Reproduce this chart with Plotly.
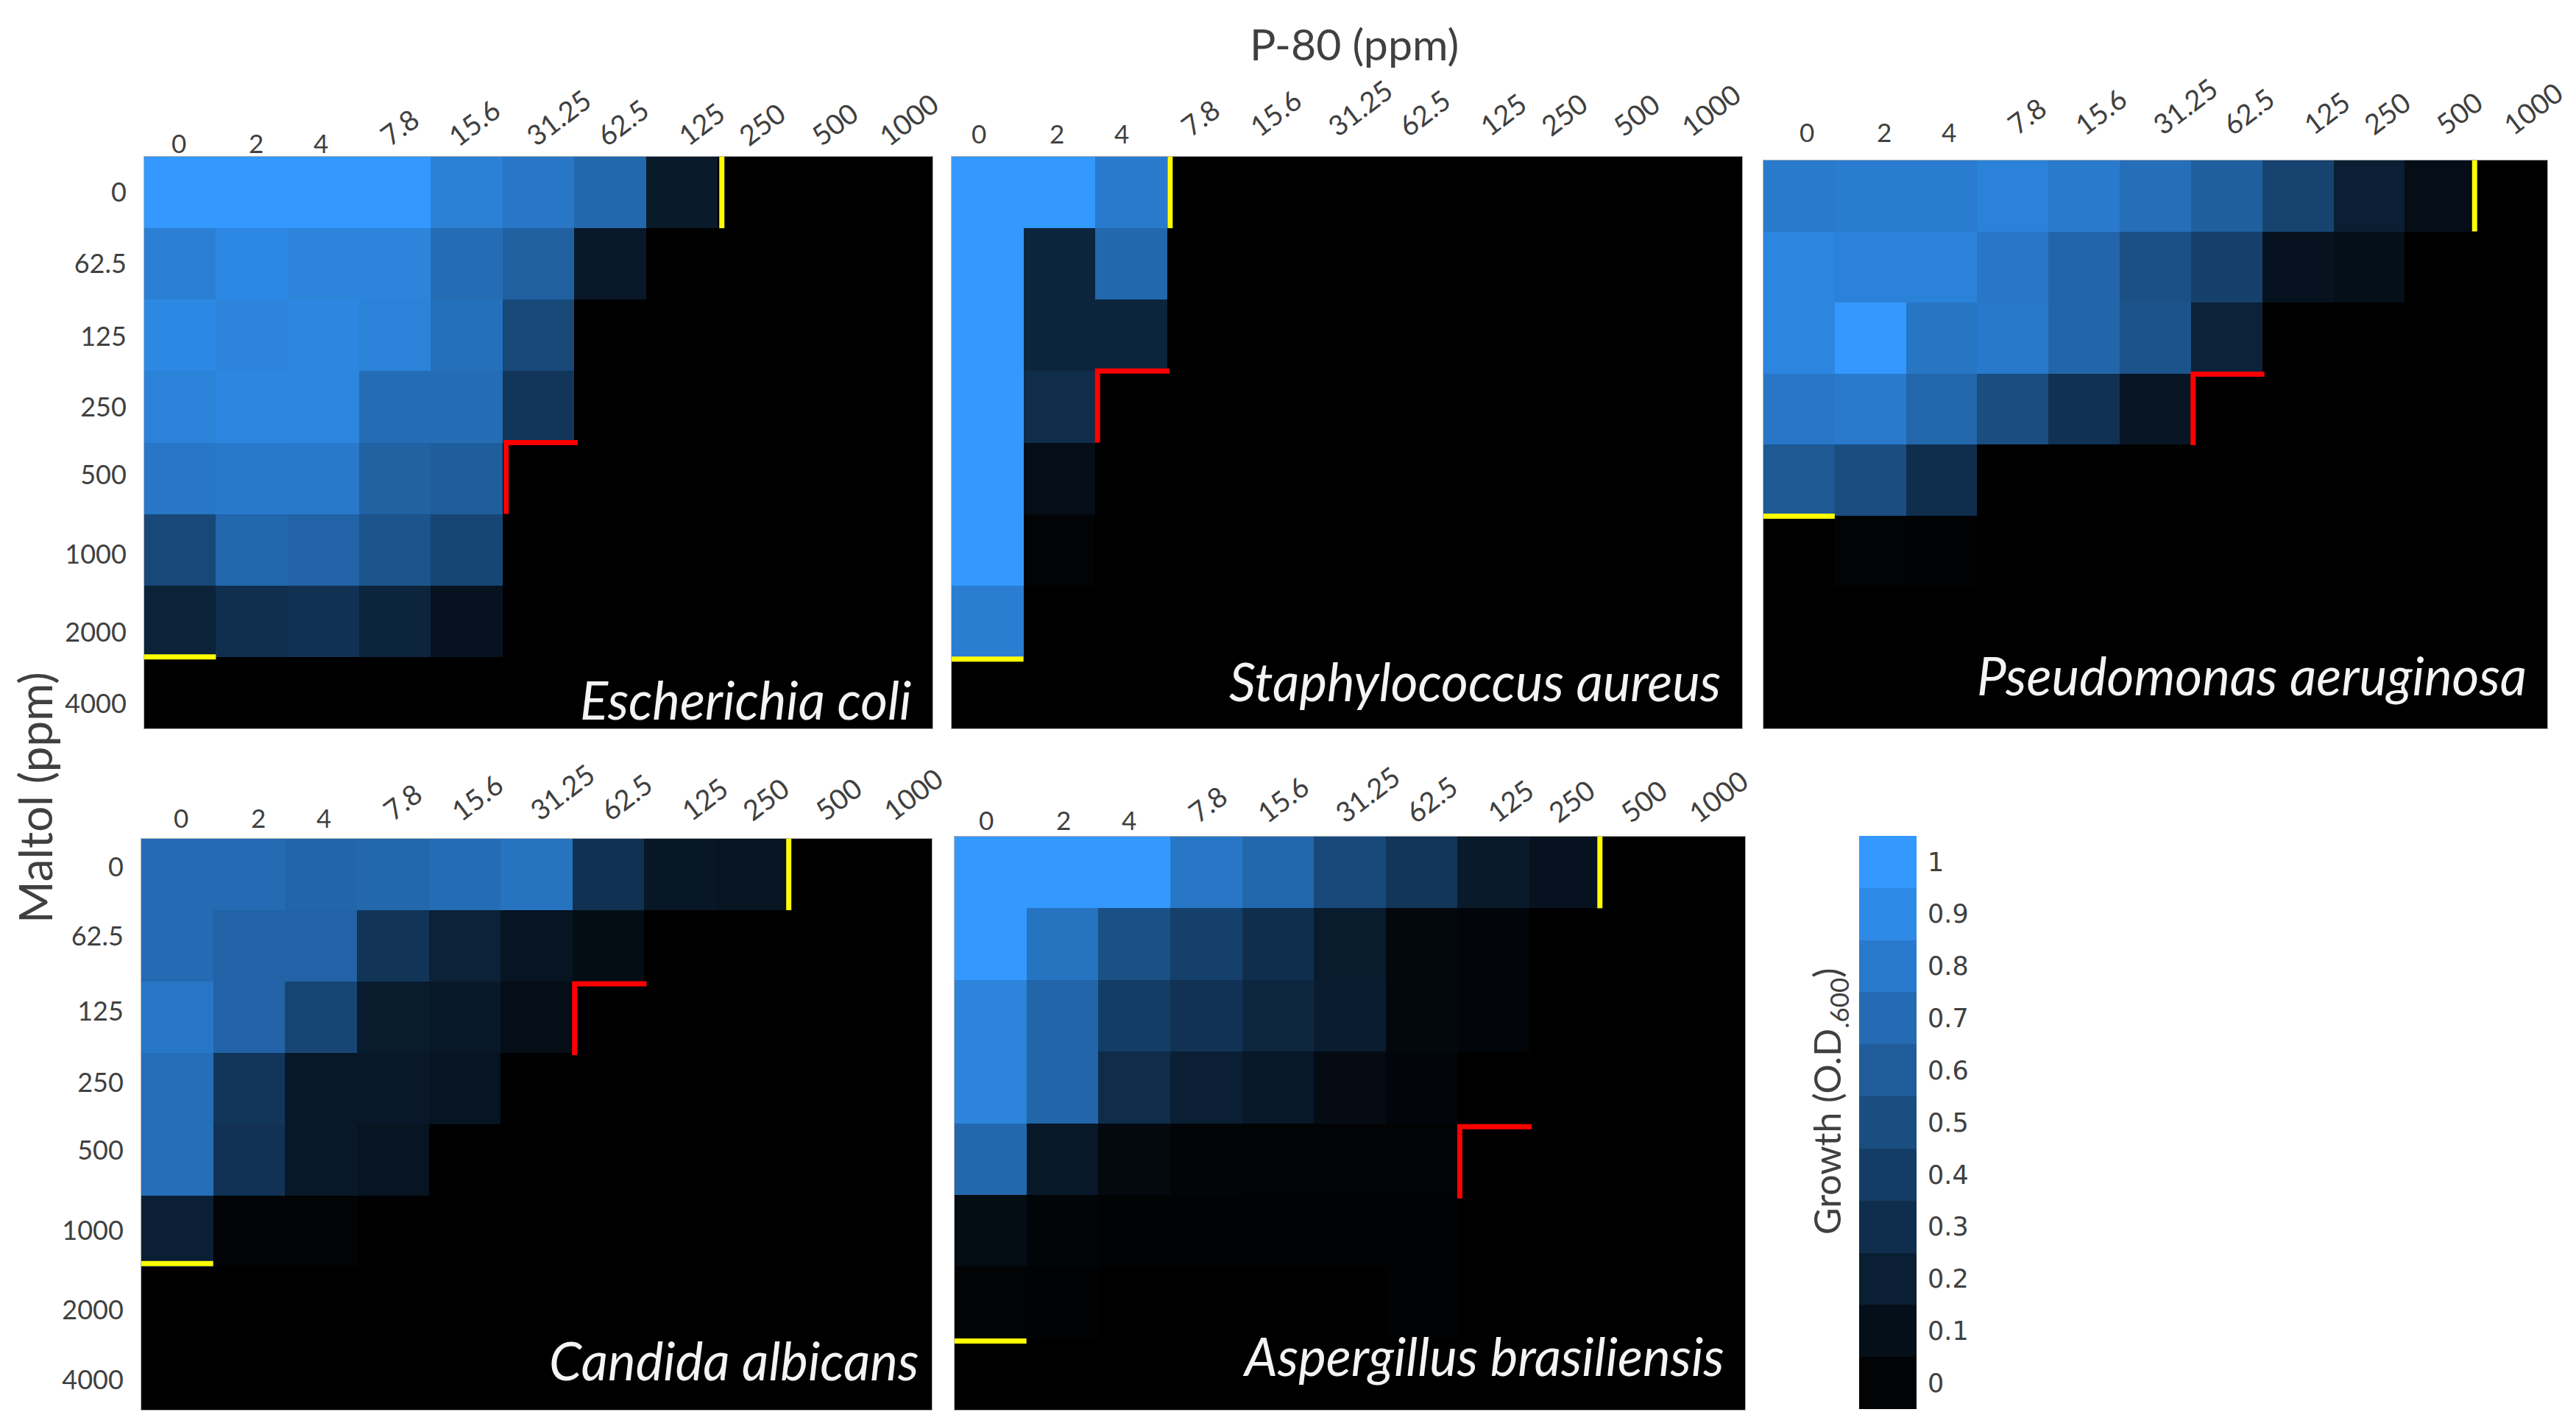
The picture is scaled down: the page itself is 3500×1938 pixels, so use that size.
import plotly.graph_objects as go

p80_labels = ["0", "2", "4", "7.8", "15.6", "31.25", "62.5", "125", "250", "500", "1000"]
maltol_labels = ["0", "62.5", "125", "250", "500", "1000", "2000", "4000"]
growth_labels = ["1", "0.9", "0.8", "0.7", "0.6", "0.5", "0.4", "0.3", "0.2", "0.1", "0"]
growth_levels = [1.0, 0.9, 0.8, 0.7, 0.6, 0.5, 0.4, 0.3, 0.2, 0.1, 0.02]

species = ["Escherichia coli", "Staphylococcus aureus", "Pseudomonas aeruginosa",
           "Candida albicans", "Aspergillus brasiliensis"]

e_coli = [
    [1.00, 1.00, 1.00, 1.00, 0.84, 0.78, 0.68, 0.17, 0, 0, 0],
    [0.83, 0.89, 0.86, 0.86, 0.71, 0.63, 0.16, 0, 0, 0, 0],
    [0.89, 0.86, 0.88, 0.85, 0.73, 0.47, 0, 0, 0, 0, 0],
    [0.85, 0.88, 0.87, 0.71, 0.71, 0.35, 0, 0, 0, 0, 0],
    [0.78, 0.79, 0.79, 0.64, 0.61, 0, 0, 0, 0, 0, 0],
    [0.47, 0.67, 0.65, 0.55, 0.46, 0, 0, 0, 0, 0, 0],
    [0.22, 0.31, 0.32, 0.24, 0.12, 0, 0, 0, 0, 0, 0],
    [0, 0, 0, 0, 0, 0, 0, 0, 0, 0, 0],
]
s_aureus = [
    [1.00, 1.00, 0.80, 0, 0, 0, 0, 0, 0, 0, 0],
    [1.00, 0.24, 0.68, 0, 0, 0, 0, 0, 0, 0, 0],
    [1.00, 0.24, 0.24, 0, 0, 0, 0, 0, 0, 0, 0],
    [1.00, 0.29, 0, 0, 0, 0, 0, 0, 0, 0, 0],
    [1.00, 0.09, 0, 0, 0, 0, 0, 0, 0, 0, 0],
    [1.00, 0.02, 0, 0, 0, 0, 0, 0, 0, 0, 0],
    [0.82, 0, 0, 0, 0, 0, 0, 0, 0, 0, 0],
    [0, 0, 0, 0, 0, 0, 0, 0, 0, 0, 0],
]
p_aeruginosa = [
    [0.80, 0.81, 0.81, 0.85, 0.80, 0.72, 0.62, 0.44, 0.20, 0.09, 0],
    [0.87, 0.85, 0.85, 0.78, 0.66, 0.52, 0.42, 0.12, 0.10, 0, 0],
    [0.87, 1.00, 0.77, 0.79, 0.66, 0.54, 0.22, 0, 0, 0, 0],
    [0.78, 0.80, 0.67, 0.50, 0.32, 0.14, 0, 0, 0, 0, 0],
    [0.58, 0.50, 0.30, 0, 0, 0, 0, 0, 0, 0, 0],
    [0, 0.02, 0.01, 0, 0, 0, 0, 0, 0, 0, 0],
    [0, 0, 0, 0, 0, 0, 0, 0, 0, 0, 0],
    [0, 0, 0, 0, 0, 0, 0, 0, 0, 0, 0],
]
c_albicans = [
    [0.70, 0.70, 0.66, 0.68, 0.71, 0.75, 0.32, 0.15, 0.13, 0, 0],
    [0.70, 0.65, 0.65, 0.34, 0.22, 0.13, 0.08, 0, 0, 0, 0],
    [0.78, 0.65, 0.45, 0.18, 0.16, 0.09, 0, 0, 0, 0, 0],
    [0.72, 0.35, 0.16, 0.16, 0.13, 0, 0, 0, 0, 0, 0],
    [0.72, 0.33, 0.16, 0.13, 0, 0, 0, 0, 0, 0, 0],
    [0.20, 0.02, 0.02, 0, 0, 0, 0, 0, 0, 0, 0],
    [0, 0, 0, 0, 0, 0, 0, 0, 0, 0, 0],
    [0, 0, 0, 0, 0, 0, 0, 0, 0, 0, 0],
]
a_brasiliensis = [
    [1.00, 1.00, 1.00, 0.78, 0.68, 0.48, 0.35, 0.17, 0.12, 0, 0],
    [1.00, 0.75, 0.52, 0.42, 0.30, 0.18, 0.05, 0.04, 0, 0, 0],
    [0.86, 0.66, 0.40, 0.33, 0.25, 0.19, 0.05, 0.04, 0, 0, 0],
    [0.86, 0.66, 0.29, 0.20, 0.16, 0.07, 0.04, 0, 0, 0, 0],
    [0.68, 0.16, 0.06, 0.03, 0.02, 0.02, 0.02, 0, 0, 0, 0],
    [0.08, 0.03, 0.01, 0.01, 0.01, 0.01, 0.01, 0, 0, 0, 0],
    [0.02, 0.01, 0, 0, 0, 0, 0.015, 0, 0, 0, 0],
    [0, 0, 0, 0, 0, 0, 0, 0, 0, 0, 0],
]
panel_values = [e_coli, s_aureus, p_aeruginosa, c_albicans, a_brasiliensis]

# MIC marks, counted as cell edges from the top left of each panel
# (hand drawn in the original, so they are a little off the grid)
yellow_col_edge = [8.06, 3.04, 9.98, 9.01, 8.98]
yellow_row_edge = [7, 7.03, 5.01, 5.95, 7.04]
red_col_edge = [5.05, 2.03, 6.03, 6.03, 7.03]
red_row_edge = [4, 3, 3.01, 2.03, 4.05]

W, H = 3500, 1938

# left, top, right, bottom of each panel in pixels
panel_boxes = [
    (196, 213, 1267, 990),
    (1293, 213, 2367, 990),
    (2396, 218, 3461, 990),
    (192, 1140, 1266, 1916),
    (1297, 1137, 2371, 1916),
]
colorbar_box = (2526, 1136, 2604, 1915)

# the printed tick labels do not sit exactly on the cell centres
xtick_drift = [-0.02, 0.06, -0.03, 0.06, 0.10, 0.28, 0.17, 0.27, 0.12, 0.13, 0.16]
xtick_panel_drift = [0, -0.10, 0.13, 0.07, -0.04]
xtick_lift = [5, 18, 25, 15, 9]
ytick_drift = {0: [0, 0, 0.02, 0, -0.05, 0.06, 0.16, 0.15],
               3: [-0.10, -0.13, -0.08, -0.08, -0.13, -0.01, 0.10, 0.08]}

species_right = [1240, 2340, 3435, 1250, 2345]
species_middle = [950, 925, 918, 1848, 1842]

blues = [[0, "#000000"], [1, "#3399ff"]]
TEXT = "#404040"
FONT = "Lato"


def px_x(x):
    return x / W


def px_y(y):
    return 1 - y / H


fig = go.Figure()
layout = {}
notes = []
cols = list(range(len(p80_labels)))
rows = list(range(len(maltol_labels)))

for i, values in enumerate(panel_values):
    n = "" if i == 0 else str(i + 1)
    left, top, right, bottom = panel_boxes[i]
    fig.add_trace(go.Heatmap(z=values, x=cols, y=rows, colorscale=blues,
                             zmin=0, zmax=1, showscale=False, xaxis="x" + n, yaxis="y" + n))

    cx = yellow_col_edge[i] - 0.5
    ry = yellow_row_edge[i] - 0.5
    fig.add_trace(go.Scatter(x=[cx, cx], y=[-0.5, 0.5], mode="lines", showlegend=False,
                             line=dict(color="#ffff00", width=7), xaxis="x" + n, yaxis="y" + n))
    fig.add_trace(go.Scatter(x=[-0.5, 0.5], y=[ry, ry], mode="lines", showlegend=False,
                             line=dict(color="#ffff00", width=7), xaxis="x" + n, yaxis="y" + n))
    rx = red_col_edge[i] - 0.5
    rr = red_row_edge[i] - 0.5
    fig.add_trace(go.Scatter(x=[rx + 1, rx, rx], y=[rr, rr, rr + 1], mode="lines", showlegend=False,
                             line=dict(color="#ff0000", width=7), xaxis="x" + n, yaxis="y" + n))

    layout["xaxis" + n] = dict(domain=[px_x(left), px_x(right)], anchor="y" + n, range=[-0.5, 10.5],
                               type="linear", showticklabels=False, ticks="", showgrid=False,
                               zeroline=False, showline=True, mirror=True, linecolor="#b4b4b4", linewidth=1)
    yaxis = dict(domain=[px_y(bottom), px_y(top)], anchor="x" + n, range=[7.5, -0.5], type="linear",
                 showticklabels=False, ticks="", showgrid=False, zeroline=False,
                 showline=True, mirror=True, linecolor="#b4b4b4", linewidth=1)
    if i in ytick_drift:
        yaxis.update(showticklabels=True, tickmode="array",
                     tickvals=[r + d for r, d in enumerate(ytick_drift[i])], ticktext=maltol_labels,
                     ticklabelstandoff=16, tickfont=dict(family=FONT, size=36, color=TEXT))
    layout["yaxis" + n] = yaxis

    for c, label in enumerate(p80_labels):
        flat = c < 3
        notes.append(dict(text=label, xref="x" + n, yref="paper", showarrow=False,
                          x=c + xtick_drift[c] + xtick_panel_drift[i], y=px_y(top),
                          xanchor="center", yanchor="bottom",
                          yshift=xtick_lift[i] - 8 if flat else xtick_lift[i],
                          textangle=0 if flat else -37, borderpad=0,
                          font=dict(family=FONT, size=35 if flat else 38, color=TEXT)))

    notes.append(dict(text="<i>" + species[i] + "</i>", xref="paper", yref="paper", showarrow=False,
                      x=px_x(species_right[i]), y=px_y(species_middle[i]), xanchor="right",
                      yanchor="middle", font=dict(family=FONT, size=71, color="#f4f4f4")))

# colour key, one cell per printed level
left, top, right, bottom = colorbar_box
fig.add_trace(go.Heatmap(z=[[v] for v in growth_levels], y=growth_labels, colorscale=blues,
                         zmin=0, zmax=1, showscale=False, xaxis="x6", yaxis="y6"))
layout["xaxis6"] = dict(domain=[px_x(left), px_x(right)], anchor="y6", showticklabels=False,
                        ticks="", showgrid=False, zeroline=False)
layout["yaxis6"] = dict(domain=[px_y(bottom), px_y(top)], anchor="x6", side="right", type="category",
                        autorange="reversed", ticks="", showgrid=False, zeroline=False,
                        ticklabelstandoff=14,
                        tickfont=dict(family="DejaVu Sans", size=35, color=TEXT))

notes.append(dict(text="P-80 (ppm)", xref="paper", yref="paper", x=px_x(1840), y=px_y(59),
                  xanchor="center", yanchor="middle", showarrow=False,
                  font=dict(family=FONT, size=59, color=TEXT)))
notes.append(dict(text="Maltol (ppm)", xref="paper", yref="paper", x=px_x(47), y=px_y(1084),
                  xanchor="center", yanchor="middle", showarrow=False, textangle=-90,
                  font=dict(family=FONT, size=62, color=TEXT)))
notes.append(dict(text="Growth (O.D<sub>.600</sub>)", xref="paper", yref="paper", x=px_x(2485),
                  y=px_y(1497), xanchor="center", yanchor="middle", showarrow=False, textangle=-90,
                  font=dict(family=FONT, size=50, color=TEXT)))

fig.update_layout(width=W, height=H, margin=dict(l=0, r=0, t=0, b=0), paper_bgcolor="white",
                  plot_bgcolor="black", showlegend=False, annotations=notes, **layout)

fig.write_html("out.html", config={"displayModeBar": False},
               post_script="document.body.style.margin='0';")
